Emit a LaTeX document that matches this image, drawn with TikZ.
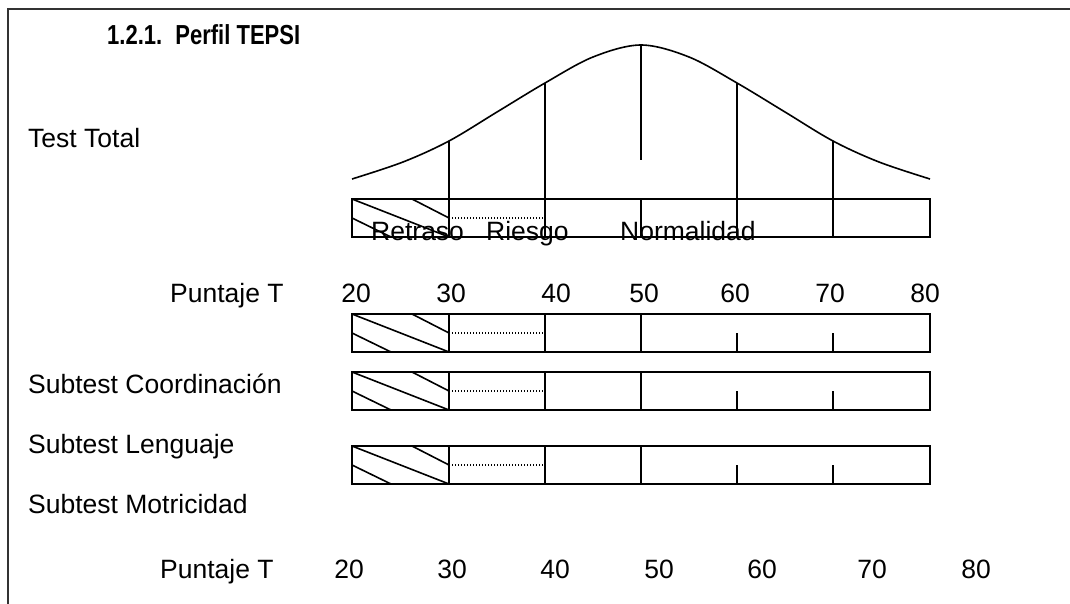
\documentclass[tikz,border=0pt]{standalone}
\usepackage{fontspec}
\setmainfont{Liberation Sans}
\usepackage{graphicx}
\usepackage{xcolor}
\usetikzlibrary{positioning}
\definecolor{tepsiink}{RGB}{0, 0, 0}
\definecolor{tepsiframe}{RGB}{50, 50, 50}

\tikzset{
  lbl/.style={anchor=base west, inner sep=0pt, text=tepsiink, font=\fontsize{26.5}{30}\selectfont},
  num/.style={anchor=base, inner sep=0pt, text=tepsiink, font=\fontsize{26.5}{30}\selectfont},
  barline/.style={draw=tepsiink, line width=1.6pt},
  riskline/.style={draw=tepsiink, line width=1.2pt, dash pattern=on 1.4pt off 1.6pt},
}

% hatched Retraso cell and dotted Riesgo line of one bar
\newcommand{\tepsicells}[1]{%
  \draw[barline] (352,#1) rectangle (930,#1+38);
  \draw[barline] (352,#1) -- (449,#1+38);
  \draw[barline] (412,#1) -- (449,#1+19);
  \draw[barline] (352,#1+19) -- (391,#1+38);
  \draw[riskline] (449,#1+19) -- (545,#1+19);
  \foreach \xx in {449,545,641} \draw[barline] (\xx,#1) -- (\xx,#1+38);
}

\begin{document}
\begin{tikzpicture}[x=1pt, y=-1pt]
\useasboundingbox (0,0) rectangle (1070,604);

% frame
\draw[tepsiframe, line width=2.5pt] (8,604) -- (8,9) -- (1070,9);

% title and row labels
\node[lbl, font=\fontsize{27.5}{32}\selectfont\bfseries] (title) at (107,45)
  {\scalebox{0.8}[1]{1.2.1.\hspace{0.6em}Perfil TEPSI}};
\node[lbl] (total) at (28,148) {Test Total};
\node[lbl] (coord) at (28,393) {Subtest Coordinación};
\node[lbl] (leng) at (28,453) {Subtest Lenguaje};
\node[lbl] (motr) at (28,513) {Subtest Motricidad};

% normal curve
\draw[barline] plot[smooth, tension=0.55] coordinates {
  (352,179) (403,162) (449,141) (497,112) (545,83) (593,57) (641,45)
  (689,57) (737,83) (785,112) (833,141) (879,162) (930,179)};
\draw[barline] (641,45) -- (641,160);
\draw[barline] (449,141) -- (449,199);
\draw[barline] (545,83) -- (545,199);
\draw[barline] (737,83) -- (737,199);
\draw[barline] (833,141) -- (833,199);

% Test Total bar
\tepsicells{199}
\draw[barline] (737,199) -- (737,237);
\draw[barline] (833,199) -- (833,237);
\node[lbl] (retraso) at (371,240) {Retraso};
\node[lbl] (riesgo) at (486,240) {Riesgo};
\node[lbl] (normal) at (620,240) {Normalidad};

% first scale
\node[lbl] (pt1) at (170,302) {Puntaje T};
\foreach \v/\xx in {20/356,30/451,40/556,50/644,60/735,70/830,80/925}
  \node[num] (top\v) at (\xx,302) {\v};

% subtest bars
\foreach \t in {314,372,446} {
  \tepsicells{\t}
  \draw[barline] (737,\t+19) -- (737,\t+38);
  \draw[barline] (833,\t+19) -- (833,\t+38);
}

% second scale
\node[lbl] (pt2) at (160,578) {Puntaje T};
\foreach \v/\xx in {20/349,30/452,40/555,50/659,60/762,70/872,80/976}
  \node[num] (bot\v) at (\xx,578) {\v};
\end{tikzpicture}
\end{document}
